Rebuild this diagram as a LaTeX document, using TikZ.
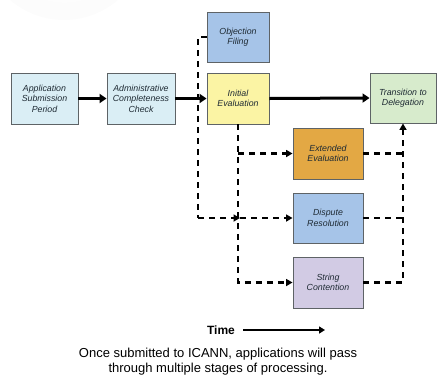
\documentclass[tikz,border=0pt]{standalone}
\usepackage{fontspec}
\setmainfont{Liberation Sans}
\usetikzlibrary{arrows.meta,calc}
\definecolor{boxborder}{HTML}{5E6366}
\definecolor{textc}{HTML}{1E2A33}
\definecolor{lightblue}{HTML}{DAEEF5}
\definecolor{midblue}{HTML}{A6C4E8}
\definecolor{paleyellow}{HTML}{FBF4A4}
\definecolor{palegreen}{HTML}{D7EBCC}
\definecolor{ochre}{HTML}{E3A844}
\definecolor{lilac}{HTML}{D2CBE4}
\pgfdeclareradialshading{halo}{\pgfpoint{0bp}{0bp}}{%
  color(0bp)=(white); color(30bp)=(gray!3); color(44bp)=(gray!10);
  color(48bp)=(gray!6); color(50bp)=(white); color(60bp)=(white)}
\tikzset{
  box/.style={draw=boxborder, line width=0.9pt, align=center, inner sep=0pt,
    text=textc, font=\fontsize{8.8}{10.5}\selectfont\itshape},
  boldarrow/.style={line width=3pt, -{Triangle[length=7pt,width=9pt]}},
  dashline/.style={line width=2.2pt, dash pattern=on 6pt off 5pt},
  dasharrow/.style={dashline, -{Triangle[length=6.5pt,width=7pt]}},
}
\begin{document}
\begin{tikzpicture}[x=1pt,y=-1pt]
\useasboundingbox (0,0) rectangle (437,381);
\begin{scope}
\clip (0,0) rectangle (437,381);
\shade[shading=halo] (64,-63) circle (83);
\end{scope}

\node[box, fill=lightblue, minimum width=67pt, minimum height=51pt] (app) at (44.5,98.5) {Application\\Submission\\Period};
\node[box, fill=lightblue, minimum width=68pt, minimum height=51pt] (admin) at (141,98.5) {Administrative\\Completeness\\Check};
\node[box, fill=midblue, minimum width=62pt, minimum height=50pt] (objection) at (238,37) {Objection\\Filing};
\node[box, fill=paleyellow, minimum width=62pt, minimum height=51pt] (initial) at (238,98.5) {Initial\\Evaluation};
\node[box, fill=palegreen, minimum width=66pt, minimum height=50pt] (transition) at (403,98) {Transition to\\Delegation};
\node[box, fill=ochre, minimum width=70pt, minimum height=51pt] (extended) at (328,153.5) {Extended\\Evaluation};
\node[box, fill=midblue, minimum width=70pt, minimum height=50pt] (dispute) at (328,218) {Dispute\\Resolution};
\node[box, fill=lilac, minimum width=70pt, minimum height=51pt] (string) at (328,282.5) {String\\Contention};

% solid flow
\draw[boldarrow] (app.east) -- (admin.west);
\draw[boldarrow] (admin.east) -- (initial.west);
\draw[boldarrow] (initial.east) -- (transition.west);

% left dashed route: objection filing
\coordinate (ltop) at (198,37);
\coordinate (lbot) at (198,218);
\coordinate (junction) at ($(initial.south |- dispute.west)+(2,0)$);
\draw[dashline] (objection.west) -- (ltop) -- (lbot);
\draw[dasharrow] (lbot) -- (junction);
\draw[dasharrow] (junction) -- (dispute.west);

% from initial evaluation down
\draw[dasharrow] (initial.south) -- (initial.south |- string.west) -- (string.west);
\draw[dasharrow] (initial.south |- extended.west) -- (extended.west);

% right side back to transition
\coordinate (rext) at (transition.south |- extended.east);
\coordinate (rdis) at (transition.south |- dispute.east);
\draw[dashline] (extended.east) -- (rext);
\draw[dashline] (dispute.east) -- (rdis);
\draw[dasharrow] (string.east) -| (transition.south);

% time arrow
\node[font=\bfseries\fontsize{12}{14}\selectfont, inner sep=0pt] (time) at (221,330) {Time};
\coordinate (tstart) at (243,330);
\coordinate (tend) at (325,330);
\draw[line width=2pt, -{Triangle[length=6pt,width=7pt]}] (tstart) -- (tend);

% caption
\node[align=center, inner sep=0pt, font=\fontsize{13}{15}\selectfont] (caption) at (218,362)
  {Once submitted to ICANN, applications will pass\\through multiple stages of processing.};
\end{tikzpicture}
\end{document}
